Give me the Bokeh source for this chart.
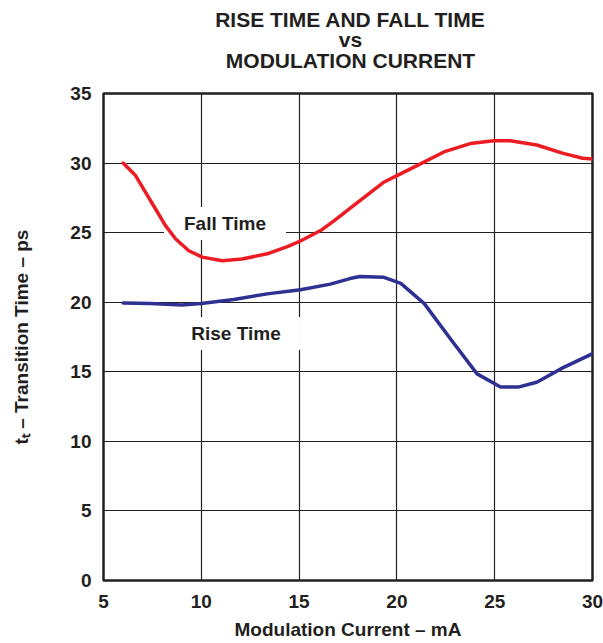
from bokeh.plotting import figure
from bokeh.models import Range1d, Label, FixedTicker
from bokeh.layouts import column
from bokeh.embed import file_html
from bokeh.resources import INLINE

# ---- data ----
fall_x = [6.0, 6.64, 7.15, 7.66, 8.17, 8.68, 9.36, 10.05, 11.07, 12.09, 13.37, 14.4, 15.07,
          16.1, 16.78, 17.6, 19.3, 20.0, 21.0, 22.4, 23.75, 24.95, 25.8, 27.15, 28.5, 29.5, 30.0]
fall_y = [30.0, 29.1, 27.9, 26.7, 25.5, 24.56, 23.7, 23.24, 22.98, 23.1, 23.48, 24.0, 24.4,
          25.15, 25.85, 26.75, 28.6, 29.1, 29.8, 30.8, 31.4, 31.6, 31.6, 31.3, 30.7, 30.35, 30.3]
rise_x = [6.0, 7.4, 9.0, 10.0, 11.66, 13.37, 15.07, 16.6, 17.6, 18.1, 19.3, 20.2,
          21.4, 22.8, 24.1, 25.3, 26.2, 27.15, 28.5, 30.0]
rise_y = [19.95, 19.9, 19.8, 19.9, 20.2, 20.6, 20.9, 21.3, 21.7, 21.85, 21.8, 21.35,
          19.9, 17.25, 14.85, 13.9, 13.9, 14.25, 15.3, 16.3]
x_ticks = [5, 10, 15, 20, 25, 30]
y_ticks = [0, 5, 10, 15, 20, 25, 30, 35]
title_lines = ["RISE TIME AND FALL TIME", "vs", "MODULATION CURRENT"]
x_label = "Modulation Current \u2013 mA"
y_label = "t\u209c \u2013 Transition Time \u2013 ps"

FONT = "Liberation Sans"
INK = "#231F20"
W = 603
TH = 80                      # height of the title strip
H = 643 - TH                 # height of the chart itself
ML, MR, MT, MB = 103, 11, 93 - TH, 63
PL, PR, PT, PB = ML, W - MR, TH + MT, TH + H - MB   # frame edges in page pixels

# ---- title strip (its own small figure; the column aligns its frame with the chart's) ----
tf = figure(width=W, height=TH, output_backend="svg", toolbar_location=None,
            x_range=Range1d(PL, PR), y_range=Range1d(0, TH),
            x_axis_type=None, y_axis_type=None, min_border=0)
tf.title = None
tf.outline_line_color = None
tf.background_fill_color = "white"
tf.border_fill_color = "white"
for line, base in zip(title_lines, [27, 46.5, 68]):
    tf.add_layout(Label(x=350, y=TH - base + 8, text=line, text_align="center",
                        text_baseline="alphabetic", text_font=FONT, text_font_style="bold",
                        text_font_size="21px", text_color=INK))

# ---- chart ----
p = figure(width=W, height=H, output_backend="svg", toolbar_location=None,
           x_range=Range1d(5, 30), y_range=Range1d(0, 35),
           min_border_left=ML, min_border_right=MR, min_border_top=MT, min_border_bottom=MB)
p.title = None
p.background_fill_color = "white"
p.border_fill_color = "white"
p.outline_line_color = INK
p.outline_line_width = 2.5

def dx(px):
    return 5 + (px - PL) / (PR - PL) * 25
def dy(py):
    return (PB - py) / (PB - PT) * 35

for ax in (p.xaxis[0], p.yaxis[0]):
    ax.axis_line_color = None
    ax.major_tick_line_color = None
    ax.minor_tick_line_color = None
    ax.major_tick_out = 0
    ax.major_tick_in = 0
    ax.major_label_text_font = FONT
    ax.major_label_text_font_style = "bold"
    ax.major_label_text_font_size = "19px"
    ax.major_label_text_color = INK
    ax.axis_label_text_font = FONT
    ax.axis_label_text_font_style = "bold"
    ax.axis_label_text_font_size = "19px"
    ax.axis_label_text_color = INK
p.xaxis.ticker = FixedTicker(ticks=x_ticks)
p.yaxis.ticker = FixedTicker(ticks=y_ticks)
p.xaxis.major_label_standoff = 14
p.yaxis.major_label_standoff = 12
p.xaxis.axis_label = x_label
p.yaxis.axis_label = y_label
p.xaxis.axis_label_standoff = 8
p.yaxis.axis_label_standoff = 35

p.xgrid.ticker = FixedTicker(ticks=x_ticks)
p.ygrid.ticker = FixedTicker(ticks=y_ticks)
for g in (p.xgrid[0], p.ygrid[0]):
    g.grid_line_color = INK
    g.grid_line_width = 1.2

# curve labels with white background (below the curves)
def curve_label(text, cx, base_y):
    p.add_layout(Label(x=dx(cx), y=dy(base_y), text=text, text_align="center",
                       text_baseline="alphabetic", text_font=FONT, text_font_style="bold",
                       text_font_size="19px", text_color=INK,
                       background_fill_color="white", padding=(20, 6), level="underlay"))
curve_label("Fall Time", 224.5, 223)
curve_label("Rise Time", 235.5, 333)

p.line(fall_x, fall_y, line_color="#ED1C24", line_width=3.5, line_join="round", line_cap="round")
p.line(rise_x, rise_y, line_color="#2E3192", line_width=3.5, line_join="round", line_cap="round")

layout = column(tf, p, spacing=0)
open("out.html", "w").write(file_html(layout, INLINE))
